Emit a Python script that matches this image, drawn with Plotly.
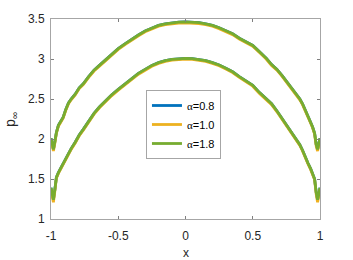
import plotly.graph_objects as go

x_vals = [-1, -0.99, -0.982, -0.972, -0.96, -0.945, -0.93, -0.91, -0.89, -0.87,
          -0.85, -0.82, -0.79, -0.76, -0.72, -0.68, -0.64, -0.60, -0.55, -0.50,
          -0.45, -0.40, -0.35, -0.30, -0.25, -0.20, -0.15, -0.10, -0.05, 0,
          0.05, 0.10, 0.15, 0.20, 0.25, 0.30, 0.35, 0.40, 0.45, 0.50,
          0.55, 0.60, 0.64, 0.68, 0.72, 0.76, 0.79, 0.82, 0.85, 0.87,
          0.89, 0.91, 0.93, 0.945, 0.96, 0.972, 0.982, 0.99, 1]

# alpha = 1.8 (green)
green_upper = [2.01, 1.92, 1.87, 1.96, 2.08, 2.17, 2.22, 2.27, 2.37, 2.45,
               2.50, 2.56, 2.64, 2.69, 2.78, 2.86, 2.92, 2.98, 3.06, 3.13,
               3.19, 3.25, 3.30, 3.35, 3.39, 3.42, 3.44, 3.455, 3.462, 3.465,
               3.462, 3.455, 3.44, 3.42, 3.39, 3.355, 3.315, 3.26, 3.21, 3.17,
               3.09, 3.01, 2.93, 2.87, 2.79, 2.70, 2.64, 2.57, 2.50, 2.44,
               2.37, 2.30, 2.21, 2.15, 2.07, 1.93, 1.87, 1.93, 2.01]
green_lower = [1.39, 1.29, 1.24, 1.36, 1.52, 1.58, 1.63, 1.69, 1.76, 1.82,
               1.88, 1.96, 2.05, 2.12, 2.22, 2.32, 2.40, 2.47, 2.55, 2.62,
               2.69, 2.75, 2.82, 2.87, 2.92, 2.955, 2.98, 2.995, 3.005, 3.008,
               3.005, 2.995, 2.98, 2.955, 2.925, 2.885, 2.84, 2.78, 2.72, 2.67,
               2.58, 2.50, 2.44, 2.35, 2.25, 2.14, 2.08, 2.00, 1.93, 1.86,
               1.77, 1.70, 1.63, 1.57, 1.50, 1.33, 1.24, 1.30, 1.39]

# alpha = 1.0 (yellow)
yellow_upper = [1.99, 1.90, 1.85, 1.94, 2.07, 2.16, 2.21, 2.26, 2.36, 2.44,
                2.49, 2.55, 2.63, 2.68, 2.77, 2.85, 2.91, 2.97, 3.05, 3.12,
                3.18, 3.24, 3.29, 3.34, 3.38, 3.41, 3.43, 3.443, 3.45, 3.453,
                3.45, 3.443, 3.43, 3.41, 3.38, 3.345, 3.305, 3.25, 3.20, 3.16,
                3.08, 3.00, 2.92, 2.86, 2.78, 2.69, 2.63, 2.56, 2.49, 2.43,
                2.36, 2.29, 2.20, 2.14, 2.06, 1.91, 1.85, 1.91, 1.99]
yellow_lower = [1.37, 1.26, 1.21, 1.34, 1.51, 1.57, 1.62, 1.68, 1.75, 1.81,
                1.87, 1.95, 2.04, 2.11, 2.21, 2.31, 2.39, 2.46, 2.54, 2.61,
                2.68, 2.74, 2.81, 2.86, 2.91, 2.945, 2.97, 2.985, 2.995, 2.998,
                2.995, 2.985, 2.97, 2.945, 2.915, 2.875, 2.83, 2.77, 2.71, 2.66,
                2.57, 2.49, 2.43, 2.34, 2.24, 2.13, 2.07, 1.99, 1.92, 1.85,
                1.76, 1.69, 1.62, 1.56, 1.49, 1.31, 1.21, 1.28, 1.37]

# alpha = 0.8 (blue, hidden below the others)
blue_upper = [2.01, 1.92, 1.87, 1.96, 2.08, 2.17, 2.22, 2.27, 2.37, 2.45,
              2.50, 2.56, 2.64, 2.69, 2.78, 2.86, 2.92, 2.98, 3.06, 3.13,
              3.19, 3.25, 3.30, 3.35, 3.39, 3.42, 3.44, 3.455, 3.462, 3.465,
              3.462, 3.455, 3.44, 3.42, 3.39, 3.355, 3.315, 3.26, 3.21, 3.17,
              3.09, 3.01, 2.93, 2.87, 2.79, 2.70, 2.64, 2.57, 2.50, 2.44,
              2.37, 2.30, 2.21, 2.15, 2.07, 1.93, 1.87, 1.93, 2.01]
blue_lower = [1.39, 1.29, 1.24, 1.36, 1.52, 1.58, 1.63, 1.69, 1.76, 1.82,
              1.88, 1.96, 2.05, 2.12, 2.22, 2.32, 2.40, 2.47, 2.55, 2.62,
              2.69, 2.75, 2.82, 2.87, 2.92, 2.955, 2.98, 2.995, 3.005, 3.008,
              3.005, 2.995, 2.98, 2.955, 2.925, 2.885, 2.84, 2.78, 2.72, 2.67,
              2.58, 2.50, 2.44, 2.35, 2.25, 2.14, 2.08, 2.00, 1.93, 1.86,
              1.77, 1.70, 1.63, 1.57, 1.50, 1.33, 1.24, 1.30, 1.39]

series_names = ["0.8", "1.0", "1.8"]
series_colors = ["#0072BD", "#EDB120", "#77AC30"]
series_upper = [blue_upper, yellow_upper, green_upper]
series_lower = [blue_lower, yellow_lower, green_lower]

x_ticks = [-1, -0.5, 0, 0.5, 1]
x_tick_text = ["-1", "-0.5", "0", "0.5", "1"]
y_ticks = [1, 1.5, 2, 2.5, 3, 3.5]
y_tick_text = ["1", "1.5", "2", "2.5", "3", "3.5"]

fig = go.Figure()
for name, color, up, lo in zip(series_names, series_colors, series_upper, series_lower):
    label = "<span style='font-family:Liberation Serif'>α</span>=" + name
    fig.add_trace(go.Scatter(x=x_vals, y=up, mode="lines", name=label,
                             line=dict(color=color, width=2.8),
                             legendgroup=name, showlegend=True))
    fig.add_trace(go.Scatter(x=x_vals, y=lo, mode="lines", name=label,
                             line=dict(color=color, width=2.8),
                             legendgroup=name, showlegend=False))

axis_common = dict(showline=True, linecolor="#a6a6a6", linewidth=1, mirror="ticks",
                   ticks="inside", ticklen=3, tickcolor="#7f7f7f", tickwidth=1,
                   showgrid=False, zeroline=False, automargin=False,
                   tickfont=dict(family="Liberation Sans, Arial", size=12, color="#262626"))

label_font = dict(family="Liberation Sans, Arial", size=12, color="#262626")

fig.update_layout(
    width=353, height=260,
    margin=dict(l=51, r=33, t=19, b=41),
    paper_bgcolor="white", plot_bgcolor="white",
    xaxis=dict(range=[-1, 1], tickvals=x_ticks, ticktext=x_tick_text,
               ticklabelstandoff=6, **axis_common),
    yaxis=dict(range=[1, 3.5], tickvals=y_ticks, ticktext=y_tick_text,
               ticklabelstandoff=3, **axis_common),
    annotations=[
        dict(text="p<sub style='font-size:13px'>∞</sub>",
             xref="paper", yref="paper", x=-0.149, y=0.5,
             xanchor="center", yanchor="middle", textangle=-90, showarrow=False,
             font=dict(family="Liberation Sans, Arial", size=14, color="#262626")),
        dict(text="x", xref="paper", yref="paper", x=0.5, y=-0.17,
             xanchor="center", yanchor="middle", showarrow=False, font=label_font),
    ],
    legend=dict(x=0.353, y=0.645, xanchor="left", yanchor="top",
                bgcolor="white", bordercolor="#a6a6a6", borderwidth=1,
                font=dict(family="Liberation Sans, Arial", size=11, color="#000000"),
                tracegroupgap=0, itemwidth=30),
    showlegend=True,
)

fig.write_html("out.html", config={"displayModeBar": False},
               post_script="document.body.style.margin='0';document.body.style.padding='0';")
